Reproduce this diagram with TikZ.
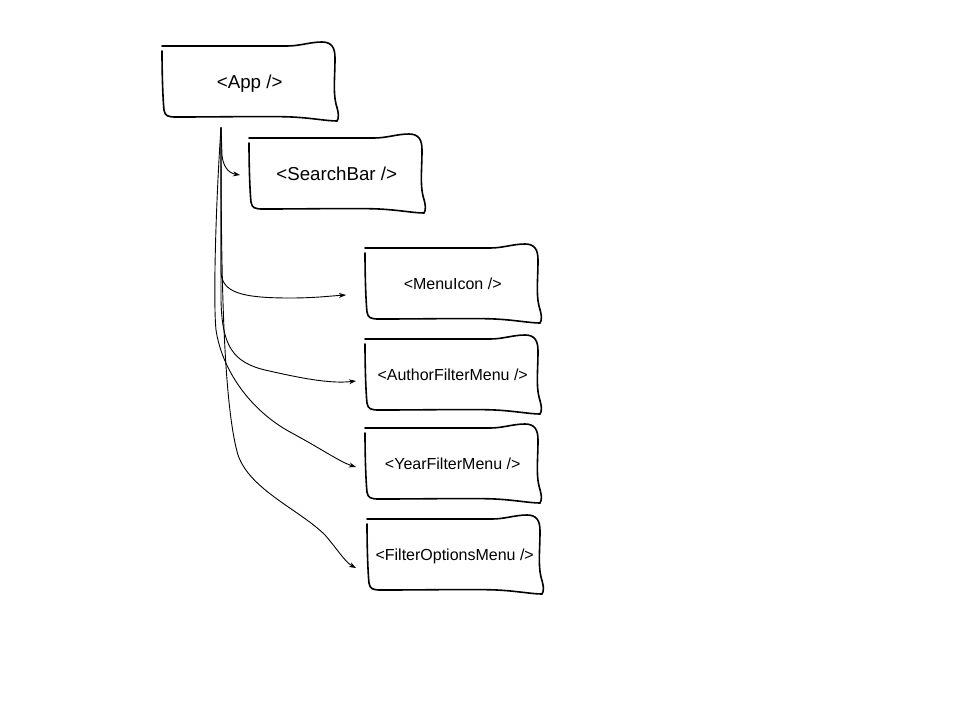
\documentclass[tikz,border=0pt]{standalone}
\usepackage{fontspec}
\setmainfont{Liberation Sans}
\usetikzlibrary{arrows.meta,calc}
\tikzset{
  boxline/.style={line width=1.6pt, line cap=round, line join=round},
  compbox/.style={inner sep=0pt, minimum width=175pt, minimum height=74pt, anchor=north west},
  bigtext/.style={font=\fontsize{18.7}{22}\selectfont},
  smalltext/.style={font=\fontsize{16}{19}\selectfont},
  link/.style={line width=0.9pt, -{Stealth[length=7pt,width=5pt]}}
}
\newcommand{\wavybox}[1]{%
  \begin{scope}[shift={(#1.north west)}]
    \draw[boxline] (0,0) -- (125,0) .. controls (138,0) and (148,-4) .. (160,-4)
      .. controls (170,-4) and (173,2) .. (173,12)
      .. controls (173,30) and (171,46) .. (174,58)
      .. controls (177,68) and (177,72) .. (175,75);
    \draw[boxline] (0,5) .. controls (0,30) and (1,55) .. (2,64)
      .. controls (3,70) and (6,71) .. (14,71)
      .. controls (60,71) and (110,70) .. (130,71)
      .. controls (150,72) and (165,75) .. (175,75);
  \end{scope}}
\begin{document}
\begin{tikzpicture}[x=1pt,y=-1pt]
\useasboundingbox (0,0) rectangle (960,720);
\node[compbox,bigtext] (app) at (162,46) {\textless App /\textgreater};
\node[compbox,bigtext,minimum height=72pt] (search) at (249,138) {\textless SearchBar /\textgreater};
\node[compbox,smalltext,minimum height=72pt] (menu) at (365,248) {\textless MenuIcon /\textgreater};
\node[compbox,smalltext,minimum height=72pt] (author) at (365,339) {\textless AuthorFilterMenu /\textgreater};
\node[compbox,smalltext,minimum height=72pt] (year) at (365,428) {\textless YearFilterMenu /\textgreater};
\node[compbox,smalltext,minimum height=74pt] (filter) at (367,519) {\textless FilterOptionsMenu /\textgreater};
\foreach \n in {app,search,menu,author,year,filter}{\wavybox{\n}}
\coordinate (root) at ($(app.south west)+(59,7)$);
\coordinate (tS) at ($(search.north west)+(-9,37)$);
\coordinate (tM) at ($(menu.north west)+(-19,47)$);
\coordinate (tA) at ($(author.north west)+(-9,42)$);
\coordinate (tY) at ($(year.north west)+(-9,39)$);
\coordinate (tF) at ($(filter.north west)+(-11,49)$);
\draw[link] (root) -- (222,155) .. controls (223,166) and (228,173) .. (tS);
\draw[link] (root) -- (221,272) .. controls (222,292) and (240,298) .. (290,298)
  .. controls (315,298) and (330,296) .. (tM);
\draw[link] (root) -- (221,300) .. controls (222,345) and (232,362) .. (265,370)
  .. controls (300,378) and (330,384) .. (tA);
\draw[link] (root) .. controls (216,200) and (213,300) .. (216,330)
  .. controls (222,370) and (250,410) .. (290,432)
  .. controls (320,448) and (340,462) .. (tY);
\draw[link] (root) .. controls (221,250) and (222,400) .. (238,455)
  .. controls (250,490) and (300,510) .. (325,535)
  .. controls (338,550) and (345,562) .. (tF);
\end{tikzpicture}
\end{document}
